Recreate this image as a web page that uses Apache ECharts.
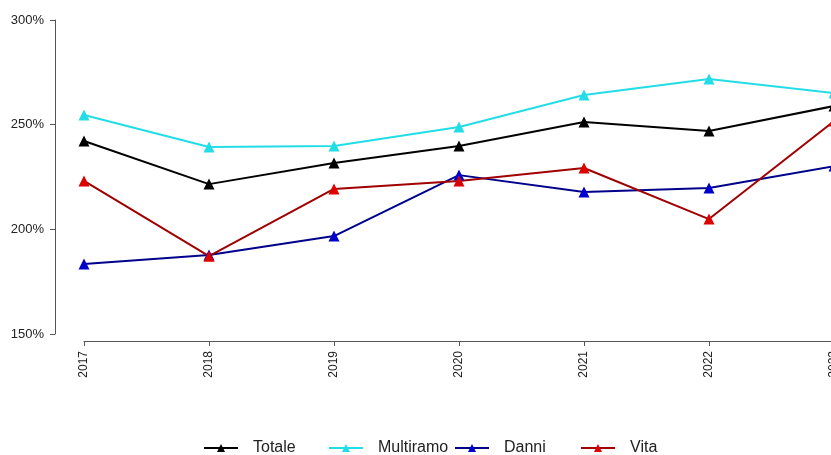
<!DOCTYPE html>
<html>
<head>
<meta charset="utf-8">
<script src="https://cdn.jsdelivr.net/npm/echarts@6/dist/echarts.min.js"></script>
<style>html,body{margin:0;padding:0;background:#fff}#c{width:831px;height:455px}</style>
</head>
<body>
<div id="c"></div>
<script>
const years = [2017, 2018, 2019, 2020, 2021, 2022, 2023];
const totale = [242.2, 221.6, 231.7, 239.8, 251.3, 247.0, 258.9];
const multiramo = [254.6, 239.3, 239.8, 248.9, 264.2, 271.8, 265.1];
const danni = [183.4, 187.7, 196.8, 225.9, 217.8, 219.7, 230.2];
const vita = [223.1, 187.2, 219.3, 223.1, 229.3, 204.9, 251.7];
const yTicks = [150, 200, 250, 300];

const font = 'Liberation Sans, Arial, sans-serif';
const pairs = v => years.map((y, i) => [y, v[i]]);
function mk(name, vals, lineColor, markColor) {
  return {
    name, type: 'line', data: pairs(vals), symbol: 'triangle', symbolSize: 11,
    lineStyle: { color: lineColor, width: 2 }, itemStyle: { color: markColor },
    emphasis: { disabled: true }, animation: false, clip: false
  };
}
const legendBase = { top: 440, padding: 0, itemWidth: 34, itemHeight: 10, itemGap: 0,
  textStyle: { fontFamily: font, fontSize: 16, color: '#222', padding: [0, 0, 0, 10] } };
const chart = echarts.init(document.getElementById('c'));
chart.setOption({
  animation: false,
  grid: { left: 84, top: 20, width: 750, height: 314, outerBoundsMode: 'none', containLabel: false },
  xAxis: {
    type: 'value', min: years[0], max: years[years.length - 1], interval: 1, offset: 7,
    axisLine: { show: true, lineStyle: { color: '#555', width: 1 } },
    axisTick: { show: true, length: 5, lineStyle: { color: '#555' } },
    axisLabel: { rotate: 90, fontFamily: font, fontSize: 12, color: '#222', margin: 10,
      showMaxLabel: true, formatter: v => String(v) },
    splitLine: { show: false }
  },
  yAxis: {
    type: 'value', min: yTicks[0], max: yTicks[yTicks.length - 1], interval: 50, offset: 29,
    axisLine: { show: true, lineStyle: { color: '#555', width: 1 } },
    axisTick: { show: true, length: 5, lineStyle: { color: '#555' } },
    axisLabel: { fontFamily: font, fontSize: 13, color: '#222', margin: 11, formatter: '{value}%' },
    splitLine: { show: false }
  },
  legend: [
    Object.assign({}, legendBase, { left: 203, data: ['Totale'] }),
    Object.assign({}, legendBase, { left: 328, data: ['Multiramo'] }),
    Object.assign({}, legendBase, { left: 454, data: ['Danni'] }),
    Object.assign({}, legendBase, { left: 580, data: ['Vita'] })
  ],
  series: [
    mk('Totale', totale, '#000000', '#000000'),
    mk('Multiramo', multiramo, '#22DDE6', '#22DDE6'),
    mk('Danni', danni, '#00008B', '#0000CD'),
    mk('Vita', vita, '#A00000', '#DD0000')
  ]
});
</script>
</body>
</html>
